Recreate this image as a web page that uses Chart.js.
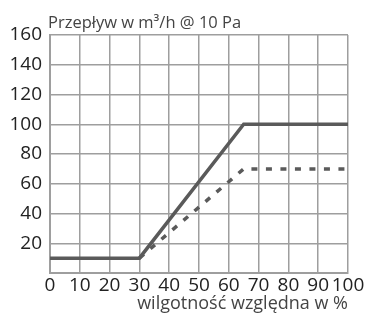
<!DOCTYPE html>
<html><head><meta charset="utf-8">
<script src="https://cdn.jsdelivr.net/npm/chart.js@4/dist/chart.umd.min.js"></script>
<style>html,body{margin:0;padding:0;background:#fff}canvas{display:block}</style>
</head><body>
<canvas id="c" width="369" height="315"></canvas>
<script>
const solidX = [0, 30, 65, 100];
const solidY = [10, 10, 100, 100];
const dashedX = [30, 65, 100];
const dashedY = [10, 70, 70];
const yTicks = [20, 40, 60, 80, 100, 120, 140, 160];
const xTicks = [0, 10, 20, 30, 40, 50, 60, 70, 80, 90, 100];
const chartTitle = 'Przepływ w m³/h @ 10 Pa';
const xTitle = 'wilgotność względna w %';

const FONT = "'Open Sans', 'Noto Sans', sans-serif";
const titlePlugin = {
  id: 'topTitle',
  afterDraw(chart) {
    const ctx = chart.ctx, a = chart.chartArea;
    ctx.save();
    ctx.font = "16.5px " + FONT;
    ctx.fillStyle = '#444';
    ctx.textAlign = 'left';
    ctx.textBaseline = 'alphabetic';
    ctx.fillText(chartTitle, a.left - 2, a.top - 7);
    ctx.restore();
  }
};

new Chart(document.getElementById('c'), {
  type: 'line',
  data: {
    datasets: [
      { data: solidX.map((x, i) => ({x, y: solidY[i]})), borderColor: '#5a5a5a', borderWidth: 3.5, pointRadius: 0, fill: false, tension: 0 },
      { data: dashedX.map((x, i) => ({x, y: dashedY[i]})), borderColor: '#5a5a5a', borderWidth: 3.5, borderDash: [6, 8.5], pointRadius: 0, fill: false, tension: 0 }
    ]
  },
  options: {
    responsive: false,
    animation: false,
    layout: { padding: { top: 35, right: 21, left: 0, bottom: 0 } },
    plugins: { legend: { display: false }, tooltip: { enabled: false } },
    scales: {
      x: {
        type: 'linear', min: 0, max: 100,
        afterFit(s) { s.height = 42; },
        afterBuildTicks(s) { s.ticks = xTicks.map(v => ({value: v})); },
        ticks: { font: { family: FONT, size: 19 }, color: '#222', padding: 1, maxRotation: 0, autoSkip: false },
        grid: { color: '#9e9e9e', lineWidth: 1.5, drawTicks: false },
        border: { color: '#9e9e9e', width: 2 },
        title: { display: true, text: xTitle, align: 'end', font: { family: FONT, size: 18 }, color: '#444', padding: { top: -5, bottom: 0 } }
      },
      y: {
        type: 'linear', min: 0, max: 160,
        afterFit(s) { s.width = 50; },
        afterBuildTicks(s) { s.ticks = [0].concat(yTicks).map(v => ({value: v})); },
        ticks: { font: { family: FONT, size: 19 }, color: '#222', padding: 8, autoSkip: false,
          callback: v => v === 0 ? '' : v },
        grid: { color: '#9e9e9e', lineWidth: 1.5, drawTicks: false },
        border: { color: '#9e9e9e', width: 2 }
      }
    }
  },
  plugins: [titlePlugin]
});
</script>
</body></html>
